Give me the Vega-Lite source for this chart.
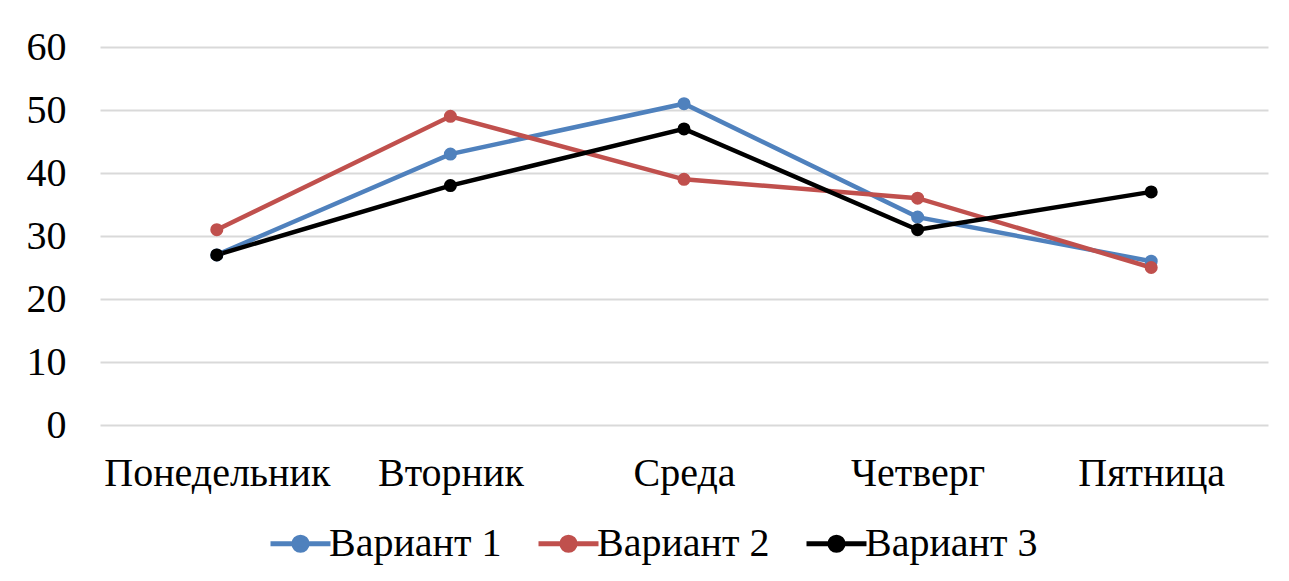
{
  "$schema": "https://vega.github.io/schema/vega-lite/v6.json",
  "autosize": {"type": "none"},
  "padding": {"left": 100, "top": 47, "right": 21, "bottom": 156},
  "width": 1168,
  "height": 378,
  "background": "white",
  "config": {
    "view": {"stroke": null},
    "font": "Liberation Serif"
  },
  "data": {
    "values": [
      {"day": "Понедельник", "variant": "Вариант 1", "value": 27},
      {"day": "Вторник", "variant": "Вариант 1", "value": 43},
      {"day": "Среда", "variant": "Вариант 1", "value": 51},
      {"day": "Четверг", "variant": "Вариант 1", "value": 33},
      {"day": "Пятница", "variant": "Вариант 1", "value": 26},
      {"day": "Понедельник", "variant": "Вариант 2", "value": 31},
      {"day": "Вторник", "variant": "Вариант 2", "value": 49},
      {"day": "Среда", "variant": "Вариант 2", "value": 39},
      {"day": "Четверг", "variant": "Вариант 2", "value": 36},
      {"day": "Пятница", "variant": "Вариант 2", "value": 25},
      {"day": "Понедельник", "variant": "Вариант 3", "value": 27},
      {"day": "Вторник", "variant": "Вариант 3", "value": 38},
      {"day": "Среда", "variant": "Вариант 3", "value": 47},
      {"day": "Четверг", "variant": "Вариант 3", "value": 31},
      {"day": "Пятница", "variant": "Вариант 3", "value": 37}
    ]
  },
  "mark": {"type": "line", "strokeWidth": 4.5, "point": {"filled": true, "size": 170}},
  "encoding": {
    "x": {
      "field": "day", "type": "nominal", "sort": null,
      "scale": {"type": "point", "padding": 0.5},
      "axis": {
        "title": null, "labelAngle": 0, "domain": false, "ticks": false, "grid": false,
        "labelFontSize": 40, "labelColor": "#000000", "labelPadding": 28, "labelLimit": 0,
        "labelFont": "Liberation Serif"
      }
    },
    "y": {
      "field": "value", "type": "quantitative",
      "scale": {"domain": [0, 60], "nice": false},
      "axis": {
        "title": null, "values": [0, 10, 20, 30, 40, 50, 60], "domain": false, "ticks": false,
        "grid": true, "gridColor": "#d9d9d9", "gridWidth": 2,
        "labelFontSize": 40, "labelColor": "#000000", "labelPadding": 34,
        "labelFont": "Liberation Serif"
      }
    },
    "color": {
      "field": "variant", "type": "nominal",
      "scale": {"domain": ["Вариант 1", "Вариант 2", "Вариант 3"], "range": ["#4F81BD", "#C0504D", "#000000"]},
      "legend": {
        "title": null,
        "orient": "none",
        "direction": "horizontal",
        "legendX": 168,
        "legendY": 464,
        "symbolType": "M-1,0L1,0M-0.22,0A0.22,0.22,0,1,1,0.22,0A0.22,0.22,0,1,1,-0.22,0Z",
        "symbolSize": 3600,
        "symbolStrokeWidth": 5,
        "labelFontSize": 40,
        "labelFont": "Liberation Serif",
        "labelColor": "#000000",
        "labelLimit": 0,
        "labelOffset": -4,
        "columnPadding": 26,
        "padding": 0,
        "encode": {
          "symbols": {"update": {"fill": {"scale": "color", "field": "value"}, "fillOpacity": {"value": 1}}}
        }
      }
    }
  }
}
